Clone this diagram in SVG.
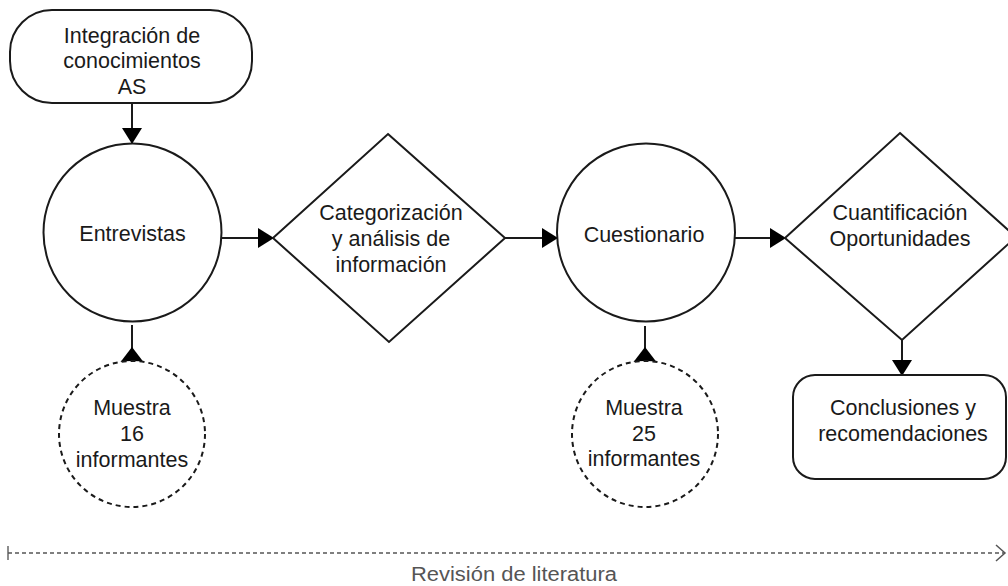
<svg xmlns="http://www.w3.org/2000/svg" width="1008" height="586" viewBox="0 0 1008 586">
<style>
.shape{fill:#fff;stroke:#1a1a1a;stroke-width:2}
.dash{fill:#fff;stroke:#1a1a1a;stroke-width:2;stroke-dasharray:5 4}
.lbl{font-family:"Liberation Sans",Arial,sans-serif;font-size:21.5px;fill:#1a1a1a;text-anchor:middle}
.conn{stroke:#1a1a1a;stroke-width:2;fill:none}
</style>
<defs>
<marker id="arrow" markerUnits="userSpaceOnUse" markerWidth="16" markerHeight="22" viewBox="0 0 16 22" refX="16" refY="11" orient="auto">
<path d="M0,1 L16,11 L0,21 Z" fill="#000"/>
</marker>
<marker id="arrowBase" markerUnits="userSpaceOnUse" markerWidth="16" markerHeight="24" viewBox="0 0 16 24" refX="0" refY="12" orient="auto">
<path d="M0,0.5 L15,12 L0,23.5 Z" fill="#000"/>
</marker>
<marker id="open" markerUnits="userSpaceOnUse" markerWidth="12" markerHeight="18" viewBox="0 0 12 18" refX="10" refY="9" orient="auto">
<path d="M1,1 L10,9 L1,17" fill="none" stroke="#555" stroke-width="1.5"/>
</marker>
</defs>
<rect width="1008" height="586" fill="#fff"/>
<g id="connectors">
<line class="conn" x1="132" y1="103" x2="132" y2="144" marker-end="url(#arrow)"/>
<line class="conn" x1="222" y1="238" x2="274" y2="238" marker-end="url(#arrow)"/>
<line class="conn" x1="505" y1="238" x2="558" y2="238" marker-end="url(#arrow)"/>
<line class="conn" x1="735" y1="238" x2="786" y2="238" marker-end="url(#arrow)"/>
<line class="conn" x1="902" y1="340" x2="902" y2="376" marker-end="url(#arrow)"/>
<line class="conn" x1="132" y1="362" x2="132" y2="325" marker-start="url(#arrowBase)"/>
<line class="conn" x1="645" y1="362" x2="645" y2="326" marker-start="url(#arrowBase)"/>
</g>
<g id="n-inicio">
<rect class="shape" x="10" y="10" width="242" height="93" rx="42" ry="42"/>
<text class="lbl" x="132" y="43">Integración de</text>
<text class="lbl" x="132" y="68">conocimientos</text>
<text class="lbl" x="132" y="94">AS</text>
</g>
<g id="n-entrevistas">
<circle class="shape" cx="132.5" cy="232.5" r="89"/>
<text class="lbl" x="132.5" y="241">Entrevistas</text>
</g>
<g id="n-categorizacion">
<polygon class="shape" points="388,134 505,238 389,342 273,238"/>
<text class="lbl" x="391" y="220">Categorización</text>
<text class="lbl" x="391" y="246">y análisis de</text>
<text class="lbl" x="391" y="272">información</text>
</g>
<g id="n-cuestionario">
<circle class="shape" cx="646" cy="232.5" r="89"/>
<text class="lbl" x="644" y="242">Cuestionario</text>
</g>
<g id="n-cuantificacion">
<polygon class="shape" points="900,133 1016,237 902,340 785,238"/>
<text class="lbl" x="900" y="220">Cuantificación</text>
<text class="lbl" x="900" y="246">Oportunidades</text>
</g>
<g id="n-muestra16">
<circle class="dash" cx="132" cy="434" r="73"/>
<text class="lbl" x="132" y="415">Muestra</text>
<text class="lbl" x="132" y="441">16</text>
<text class="lbl" x="132" y="467">informantes</text>
</g>
<g id="n-muestra25">
<circle class="dash" cx="645" cy="434" r="73"/>
<text class="lbl" x="644" y="415">Muestra</text>
<text class="lbl" x="644" y="441">25</text>
<text class="lbl" x="644" y="466">informantes</text>
</g>
<g id="n-conclusiones">
<rect class="shape" x="793" y="375" width="213" height="104" rx="22" ry="22"/>
<text class="lbl" x="903" y="415">Conclusiones y</text>
<text class="lbl" x="903" y="441">recomendaciones</text>
</g>
<g id="n-revision">
<line x1="8" y1="546" x2="8" y2="560" stroke="#666" stroke-width="1.5"/>
<line x1="8" y1="553" x2="1005" y2="553" stroke="#555" stroke-width="1.5" stroke-dasharray="4 3" marker-end="url(#open)"/>
<text x="514" y="581" font-family="'Liberation Sans',Arial,sans-serif" font-size="20" fill="#555" text-anchor="middle" textLength="206" lengthAdjust="spacingAndGlyphs">Revisión de literatura</text>
</g>
</svg>
